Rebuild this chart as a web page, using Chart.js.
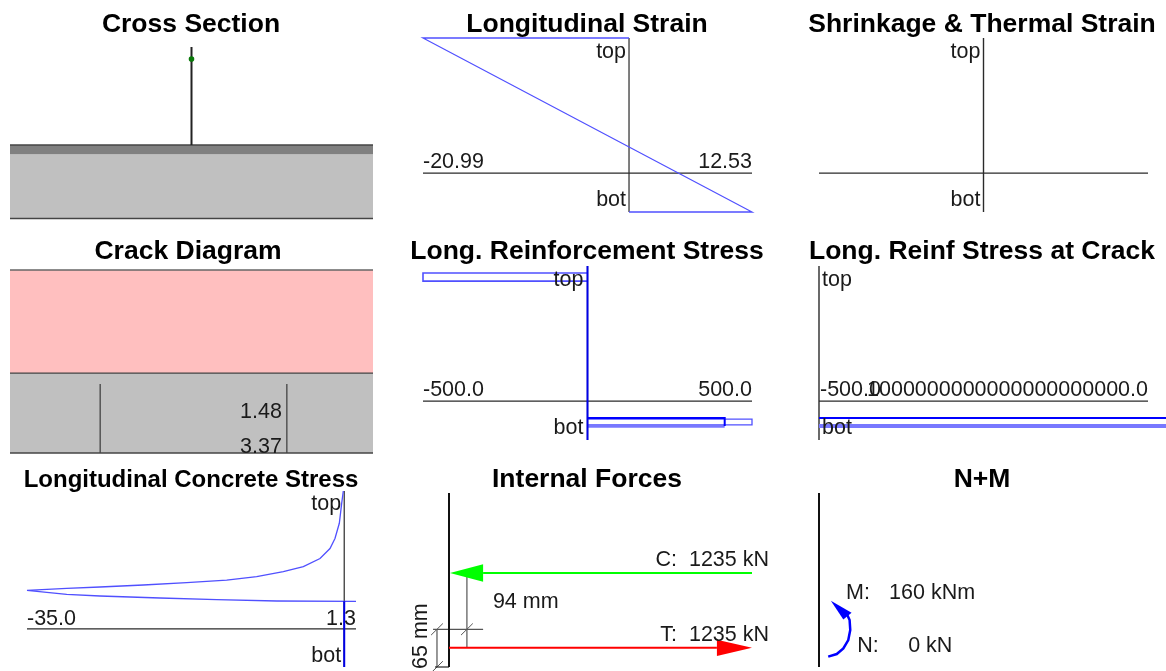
<!DOCTYPE html>
<html>
<head>
<meta charset="utf-8">
<title>Section response</title>
<script src="https://cdn.jsdelivr.net/npm/chart.js@4"></script>
<style>
    html, body { margin: 0; padding: 0; background: #fff; overflow: hidden; }
    #page { position: relative; width: 1166px; height: 671px; }
    canvas { position: absolute; filter: blur(0.45px); }
</style>
</head>
<body>
<div id="page"></div>
<script>
// Cross section (x mm from centre, y mm from bottom)
const stem = [[0, 300], [0, 129]];
const stemPoint = [[0, 279]];
const flange = [[-316, 129], [316, 129], [316, 113], [-316, 113]];
const slab = [[-316, 113], [316, 113], [316, 1], [-316, 1]];
const flangeTop = [[-316, 129], [316, 129]];
const slabBottom = [[-316, 1], [316, 1]];

// Longitudinal strain
const strainProfile = [[0, 300], [-20.99, 300], [12.53, 0], [0, 0]];
const strainAxisX = [[-20.99, 67], [12.53, 67]];
const strainAxisY = [[0, 0], [0, 300]];

// Shrinkage & thermal strain
const shrinkAxisX = [[-1, 67], [1, 67]];
const shrinkAxisY = [[0, 0], [0, 300]];

// Crack diagram
const crackTension = [[-316, 300], [316, 300], [316, 131], [-316, 131]];
const crackRest = [[-316, 131], [316, 131], [316, 0], [-316, 0]];
const crackTop = [[-316, 300], [316, 300]];
const crackMid = [[-316, 131], [316, 131]];
const crackBottom = [[-316, 0], [316, 0]];
const crackLeft = [[-159, 113], [-159, 0]];
const crackRight = [[166, 113], [166, 0]];

// Long. reinforcement stress
const reinfAxisX = [[-500, 67], [500, 67]];
const reinfAxisY = [[0, 0], [0, 300]];
const reinfTopBar = [[0, 288], [-500, 288], [-500, 274], [0, 274]];
const reinfBotBar = [[0, 36], [500, 36], [500, 26], [0, 26]];
const reinfBotTop = [[0, 38], [417, 38], [417, 24]];
const reinfBotLow = [[0, 24], [417, 24]];

// Long. reinf stress at crack
const crackStressAxisX = [[-500, 67], [1e21, 67]];
const crackStressAxisY = [[0, 0], [0, 300]];
const crackStressUpper = [[0, 38], [1.055e21, 38]];
const crackStressLower = [[0, 24], [1.055e21, 24]];

// Longitudinal concrete stress
const concreteCurve = [
    [-0.1, 300], [-0.28, 279], [-0.54, 245], [-1.02, 219], [-1.57, 202],
    [-2.67, 185], [-4.51, 171], [-6.72, 162.5], [-9.66, 154], [-12.97, 148],
    [-17.38, 143.7], [-22.17, 139.8], [-26.95, 136.4], [-30.62, 134], [-35, 130.7],
    [-30.62, 123.9], [-26.95, 121], [-20.33, 117.6], [-14.07, 114.8], [-7.45, 112.5], [1.3, 112]
];
const concreteCracked = [[0, 112], [0, 0]];
const concreteAxisX = [[-35, 65], [1.3, 65]];
const concreteAxisY = [[0, 0], [0, 300]];

// Internal forces (x kN, y mm)
const forceWall = [[0, 0], [0, 300]];
const forceFoot = [[-57, 0], [0, 0]];
const compressionLine = [[1235, 162], [139, 162]];
const compressionHead = [[4, 162], [139, 177], [139, 147]];
const tensionLine = [[0, 33], [1092, 33]];
const tensionHead = [[1235, 33], [1092, 47], [1092, 19]];
const leverDim = [[73, 158], [73, 33]];
const coverDim = [[-49, 65], [-49, 0]];
const coverLine = [[-65, 65], [139, 65]];
const tick1 = [[-73, 55], [-25, 75]];
const tick2 = [[49, 55], [97, 75]];
const tick3 = [[-73, -10], [-25, 10]];

// N+M
const momentWall = [[0, 0], [0, 300]];
const momentArc = [[2.8, 17.8], [5.4, 22.4], [7.4, 32], [8.9, 46.5], [9.5, 63.8], [9.3, 81], [8.4, 92.4]];
const momentHead = [[3.6, 114.3], [9.9, 93.6], [7.4, 81.7]];

const AXIS = '#2a2a2a';
const BLUE = '#5050ff';
Chart.defaults.font.family = "'Liberation Sans', Arial, sans-serif";

const line = (points, color, width) => ({
    data: points.map(p => ({ x: p[0], y: p[1] })),
    showLine: true,
    borderColor: color,
    borderWidth: width || 1.2,
    pointRadius: 0,
    tension: 0,
    clip: false,
});

const shape = (points, color) => ({
    data: points.concat([points[0]]).map(p => ({ x: p[0], y: p[1] })),
    showLine: true,
    borderColor: color,
    borderWidth: 0,
    backgroundColor: color,
    fill: 'shape',
    pointRadius: 0,
    tension: 0,
    clip: false,
});

const textPlugin = (labels, titleShift) => ({
    id: 'panelText',
    // title is centred on the whole canvas, not only the plot area
    afterLayout(chart) {
        chart.titleBlock.left = titleShift;
        chart.titleBlock.right = chart.width + titleShift;
    },
    afterDatasetsDraw(chart) {
        const ctx = chart.ctx;
        labels.forEach(l => {
            const px = chart.scales.x.getPixelForValue(l.x) + (l.dx || 0);
            const py = chart.scales.y.getPixelForValue(l.y) + 1;
            ctx.save();
            if (l.clip) {
                const a = chart.chartArea;
                ctx.beginPath();
                ctx.rect(a.left, a.top, a.right - a.left, a.bottom - a.top);
                ctx.clip();
            }
            ctx.translate(px, py);
            if (l.rotate) ctx.rotate(l.rotate);
            ctx.font = "21.5px 'Liberation Sans', Arial, sans-serif";
            ctx.fillStyle = '#1a1a1a';
            ctx.textAlign = l.align || 'left';
            ctx.textBaseline = 'middle';
            ctx.fillText(l.text, 0, 0);
            ctx.restore();
        });
    }
});

const columns = [[0, 382], [392, 782], [798, 1166]];
const rows = [[0, 226], [228, 456], [458, 671]];

// datasets are listed bottom first, Chart.js paints the first one last
function panel(p) {
    const col = columns[p.col], row = rows[p.row];
    const canvas = document.createElement('canvas');
    canvas.width = col[1] - col[0];
    canvas.height = row[1] - row[0];
    canvas.style.left = col[0] + 'px';
    canvas.style.top = row[0] + 'px';
    document.getElementById('page').appendChild(canvas);
    const size = p.titleSize || 26.5;
    return new Chart(canvas, {
        type: 'scatter',
        data: { datasets: p.datasets.slice().reverse() },
        plugins: [textPlugin(p.labels || [], p.titleShift || 0)],
        options: {
            responsive: false,
            animation: false,
            events: [],
            layout: {
                padding: {
                    left: p.area[0] - col[0],
                    right: col[1] - p.area[2],
                    top: 0,
                    bottom: row[1] - p.area[3],
                }
            },
            plugins: {
                legend: { display: false },
                tooltip: { enabled: false },
                title: {
                    display: true,
                    text: p.title,
                    color: '#000',
                    font: { size: size, weight: 'bold', lineHeight: 0.9 },
                    padding: {
                        top: p.titleY - size * 0.45 - row[0],
                        bottom: p.area[1] - p.titleY - size * 0.45,
                    },
                }
            },
            scales: {
                x: { type: 'linear', display: false, min: p.xRange[0], max: p.xRange[1] },
                y: { type: 'linear', display: false, min: 0, max: 300 },
            }
        }
    });
}

const stemDot = line(stemPoint, '#0a7a0a');
stemDot.pointRadius = 2.2;
stemDot.pointBackgroundColor = '#0a7a0a';
stemDot.showLine = false;

panel({
    title: 'Cross Section', col: 0, row: 0, titleY: 25,
    area: [10, 47, 373, 219], xRange: [-316, 316],
    datasets: [
        shape(slab, '#c0c0c0'),
        shape(flange, '#808080'),
        line(flangeTop, '#444', 1.5),
        line(slabBottom, '#444', 1.5),
        line(stem, '#222', 2),
        stemDot,
    ],
});

panel({
    title: 'Longitudinal Strain', col: 1, row: 0, titleY: 25,
    area: [423, 38, 752, 212], xRange: [-20.99, 12.53],
    datasets: [
        line(strainAxisX, AXIS),
        line(strainAxisY, AXIS),
        line(strainProfile, BLUE, 1.3),
    ],
    labels: [
        { text: 'top', x: 0, dx: -3, y: 278, align: 'right' },
        { text: 'bot', x: 0, dx: -3, y: 22, align: 'right' },
        { text: '-20.99', x: -20.99, y: 87 },
        { text: '12.53', x: 12.53, y: 87, align: 'right' },
    ],
});

panel({
    title: 'Shrinkage & Thermal Strain', col: 2, row: 0, titleY: 25,
    area: [819, 38, 1148, 212], xRange: [-1, 1],
    datasets: [
        line(shrinkAxisX, AXIS),
        line(shrinkAxisY, AXIS, 1.4),
    ],
    labels: [
        { text: 'top', x: 0, dx: -3, y: 278, align: 'right' },
        { text: 'bot', x: 0, dx: -3, y: 22, align: 'right' },
    ],
});

panel({
    title: 'Crack Diagram', col: 0, row: 1, titleY: 252, titleShift: -3,
    area: [10, 270, 373, 453], xRange: [-316, 316],
    datasets: [
        shape(crackTension, '#ffbfbf'),
        shape(crackRest, '#c0c0c0'),
        line(crackTop, '#666', 1.3),
        line(crackMid, '#444', 1.3),
        line(crackBottom, '#444', 1.3),
        line(crackLeft, '#444', 1.3),
        line(crackRight, '#444', 1.3),
    ],
    labels: [
        { text: '1.48', x: 166, dx: -5, y: 68, align: 'right', clip: true },
        { text: '3.37', x: 166, dx: -5, y: 11.5, align: 'right', clip: true },
    ],
});

panel({
    title: 'Long. Reinforcement Stress', col: 1, row: 1, titleY: 252,
    area: [423, 266, 752, 440], xRange: [-500, 500],
    datasets: [
        line(reinfAxisX, AXIS),
        line(reinfAxisY, AXIS),
        line(reinfTopBar, BLUE, 1.6),
        line(reinfBotBar, BLUE, 1.3),
        line(reinfBotLow, '#7878ff', 3.5),
        line(reinfBotTop, '#0000ff', 2),
        line(reinfAxisY, '#0000e6', 2),
    ],
    labels: [
        { text: 'top', x: 0, dx: -4, y: 278, align: 'right' },
        { text: 'bot', x: 0, dx: -4, y: 22, align: 'right' },
        { text: '-500.0', x: -500, y: 87 },
        { text: '500.0', x: 500, y: 87, align: 'right' },
    ],
});

panel({
    title: 'Long. Reinf Stress at Crack', col: 2, row: 1, titleY: 252,
    area: [819, 266, 1148, 440], xRange: [-500, 1e21],
    datasets: [
        line(crackStressAxisX, AXIS),
        line(crackStressAxisY, AXIS, 1.4),
        line(crackStressLower, '#7878ff', 4),
        line(crackStressUpper, '#0000ff', 2),
    ],
    labels: [
        { text: 'top', x: 0, dx: 3, y: 278 },
        { text: 'bot', x: 0, dx: 3, y: 22 },
        { text: '-500.0', x: -500, dx: 1, y: 87 },
        { text: '1000000000000000000000.0', x: 1e21, y: 87, align: 'right' },
    ],
});

panel({
    title: 'Longitudinal Concrete Stress', col: 0, row: 2, titleY: 480, titleSize: 24,
    area: [27, 491, 356, 667], xRange: [-35, 1.3],
    datasets: [
        line(concreteAxisX, AXIS),
        line(concreteAxisY, AXIS),
        line(concreteCurve, BLUE, 1.3),
        line(concreteCracked, '#0000e6', 2),
    ],
    labels: [
        { text: 'top', x: 0, dx: -3, y: 280, align: 'right' },
        { text: 'bot', x: 0, dx: -3, y: 20, align: 'right' },
        { text: '-35.0', x: -35, y: 84 },
        { text: '1.3', x: 1.3, y: 84, align: 'right' },
    ],
});

panel({
    title: 'Internal Forces', col: 1, row: 2, titleY: 480,
    area: [449, 493, 752, 667], xRange: [0, 1235],
    datasets: [
        line(leverDim, '#555', 1.2),
        line(coverDim, '#555', 1.2),
        line(coverLine, '#555', 1.2),
        line(tick1, '#555', 1),
        line(tick2, '#555', 1),
        line(tick3, '#555', 1),
        line(forceFoot, '#222', 1.2),
        line(forceWall, '#111', 2),
        line(compressionLine, '#00ff00', 2),
        shape(compressionHead, '#00ff00'),
        line(tensionLine, '#ff0000', 2),
        shape(tensionHead, '#ff0000'),
    ],
    labels: [
        { text: 'C:  1235 kN', x: 1235, dx: 17, y: 186, align: 'right' },
        { text: 'T:  1235 kN', x: 1235, dx: 17, y: 57, align: 'right' },
        { text: '94 mm', x: 179, y: 114 },
        { text: '65 mm', x: -112, y: 55, align: 'center', rotate: -Math.PI / 2 },
    ],
});

panel({
    title: 'N+M', col: 2, row: 2, titleY: 480,
    area: [819, 493, 1148, 667], xRange: [0, 100],
    datasets: [
        line(momentWall, '#111', 2),
        line(momentArc, '#0000ff', 2.5),
        shape(momentHead, '#0000ff'),
    ],
    labels: [
        { text: 'M:', x: 8.2, y: 129 },
        { text: '160 kNm', x: 21.3, y: 129 },
        { text: 'N:', x: 11.6, y: 38 },
        { text: '0 kN', x: 27.1, y: 38 },
    ],
});
</script>
</body>
</html>
